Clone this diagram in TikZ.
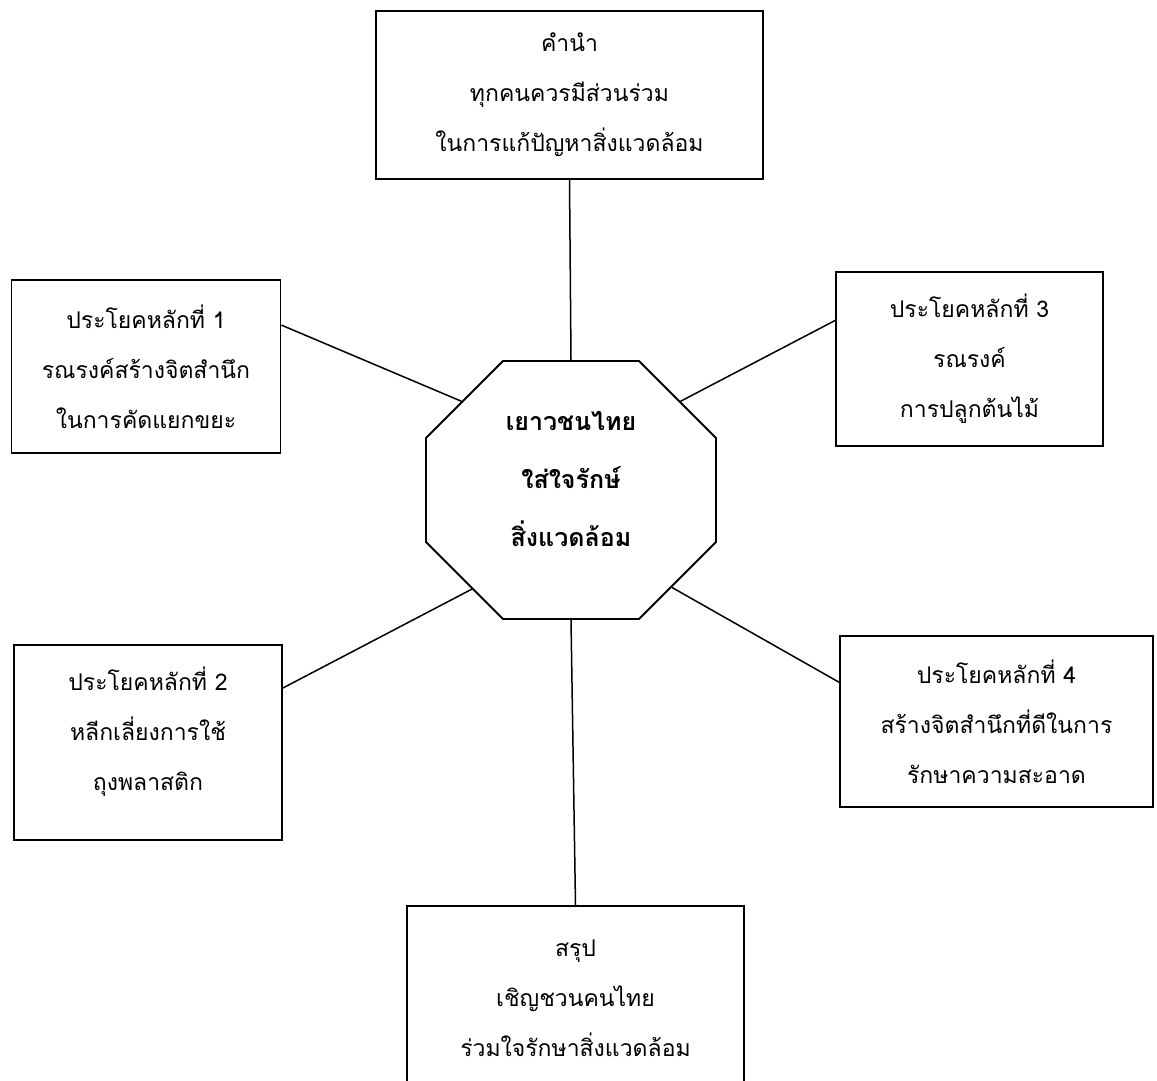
\documentclass[tikz,border=0pt]{standalone}
\usepackage{fontspec}
\newfontfamily\thaifont[Script=Thai]{Loma}
\usetikzlibrary{calc}
\usetikzlibrary{shapes.misc}

\tikzset{
    topic/.style={draw, line width=1.8pt, align=center, inner sep=0pt,
        font=\thaifont\fontsize{23}{50}\selectfont},
    hub/.style={draw, line width=1.8pt, align=center, inner sep=0pt,
        chamfered rectangle, chamfered rectangle sep=38.5pt,
        minimum width=290pt, minimum height=258pt, text depth=22pt,
        font=\thaifont\bfseries\fontsize{25}{58}\selectfont},
    link/.style={line width=1.5pt}
}

\begin{document}
\begin{tikzpicture}[x=1pt, y=-1pt]
            \clip (0, 0) rectangle (1157, 1081);
            \node[hub] (HUB) at (571, 490) {เยาวชนไทย\\ใส่ใจรักษ์\\สิ่งแวดล้อม};
            \node[topic, minimum width=387pt, minimum height=168pt] (INTRO) at (569.5, 95) {คำนำ\\ทุกคนควรมีส่วนร่วม\\ในการแก้ปัญหาสิ่งแวดล้อม};
            \node[topic, minimum width=269pt, minimum height=173pt] (KEY1) at (146, 366.5) {ประโยคหลักที่ 1\\รณรงค์สร้างจิตสำนึก\\ในการคัดแยกขยะ};
            \node[topic, minimum width=267pt, minimum height=174pt] (KEY3) at (969.5, 359) {ประโยคหลักที่ 3\\รณรงค์\\การปลูกต้นไม้};
            \node[topic, minimum width=268pt, minimum height=195pt, text depth=28pt] (KEY2) at (148, 742.5) {ประโยคหลักที่ 2\\หลีกเลี่ยงการใช้\\ถุงพลาสติก};
            \node[topic, minimum width=313pt, minimum height=171pt] (KEY4) at (996.5, 721.5) {ประโยคหลักที่ 4\\สร้างจิตสำนึกที่ดีในการ\\รักษาความสะอาด};
            \node[topic, minimum width=337pt, minimum height=184pt] (CONCL) at (575.5, 998) {สรุป\\เชิญชวนคนไทย\\ร่วมใจรักษาสิ่งแวดล้อม};
            \draw[link] (INTRO.south) -- (HUB.north);
            \draw[link] (HUB.141) -- (KEY1.17);
            \draw[link] (HUB.39) -- (KEY3.164);
            \draw[link] (HUB.225) -- (KEY2.22);
            \draw[link] (HUB.316) -- (KEY4.166);
            \draw[link] (HUB.south) -- (CONCL.north);
        \end{tikzpicture}
\end{document}
